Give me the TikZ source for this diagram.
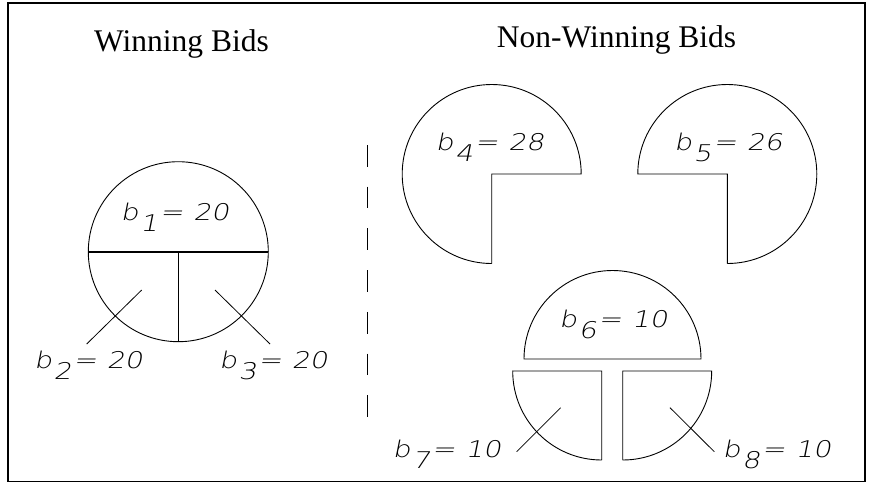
\documentclass[tikz,border=0pt]{standalone}
\usepackage{fontspec}
\setmainfont{Liberation Serif}
\newfontfamily\lblfont[FakeSlant=0.2,FakeStretch=1.22]{DejaVu Sans ExtraLight}
\newcommand{\bidlbl}[2]{{\lblfont\fontsize{23}{23}\selectfont b\kern1.5pt\raisebox{-11pt}{#1}\kern2pt=\kern10pt#2}}
\tikzset{
  titletext/.style={anchor=base west, inner sep=0pt, font=\fontsize{31.5}{31.5}\selectfont},
  bidtext/.style={anchor=base west, inner sep=0pt},
  shapeline/.style={line width=0.9pt, line join=miter},
  pointer/.style={line width=0.8pt},
  frameline/.style={line width=1.6pt},
  divider/.style={line width=1.5pt, dash pattern=on 21.7pt off 20pt}
}
\begin{document}
\begin{tikzpicture}[x=1pt,y=-1pt]
\useasboundingbox (0,0) rectangle (871,483);
% frame
\draw[frameline] (8,3) rectangle (865,481.5);
% titles
\node[titletext] (t1) at (94,51.5) {Winning Bids};
\node[titletext] (t2) at (496.7,47.5) {Non-Winning Bids};
% divider
\coordinate (dtop) at (367.3,145);
\coordinate (dbot) at (367.3,417);
\draw[divider] (dtop) -- (dbot);
% left circle
\coordinate (c1) at (178.3,251.7);
\draw[shapeline] (c1) circle[radius=90];
\draw[line width=1.3pt] (88.3,252) -- (268.3,252);
\draw[line width=1.3pt] (178.3,252) -- (178.3,341.7);
\node[bidtext] (b1) at (120.5,220) {\bidlbl{1}{20}};
\node[bidtext] (b2) at (34,368) {\bidlbl{2}{20}};
\node[bidtext] (b3) at (219,368) {\bidlbl{3}{20}};
\coordinate (p2a) at (141.7,290); \coordinate (p2b) at (86.7,344);
\coordinate (p3a) at (215,290); \coordinate (p3b) at (270,344);
\draw[pointer] (p2a) -- (p2b);
\draw[pointer] (p3a) -- (p3b);
% b4 three-quarter
\draw[shapeline] (491.7,263.5) -- (491.7,174) -- (581.2,174) arc[start angle=0, end angle=-270, radius=89.5];
\node[bidtext] (b4) at (435.5,150) {\bidlbl{4}{28}};
% b5 three-quarter
\draw[shapeline] (727.3,263.5) -- (727.3,174) -- (637.8,174) arc[start angle=180, end angle=450, radius=89.5];
\node[bidtext] (b5) at (674,150) {\bidlbl{5}{26}};
% b6 half
\draw[shapeline] (524,359) arc[start angle=180, end angle=360, radius=88.5] -- cycle;
\node[bidtext] (b6) at (559,327) {\bidlbl{6}{10}};
% b7 quarter
\draw[shapeline] (601.7,460) -- (601.7,371) -- (512.7,371) arc[start angle=180, end angle=90, radius=89];
% b8 quarter
\draw[shapeline] (622.7,460) -- (622.7,371) -- (711.7,371) arc[start angle=0, end angle=90, radius=89];
\node[bidtext] (b7) at (392.5,457) {\bidlbl{7}{10}};
\node[bidtext] (b8) at (722.5,457) {\bidlbl{8}{10}};
\coordinate (p7a) at (560.7,407.7); \coordinate (p7b) at (516.7,451.7);
\coordinate (p8a) at (670,407.7); \coordinate (p8b) at (714.3,451.7);
\draw[pointer] (p7a) -- (p7b);
\draw[pointer] (p8a) -- (p8b);
\end{tikzpicture}
\end{document}
